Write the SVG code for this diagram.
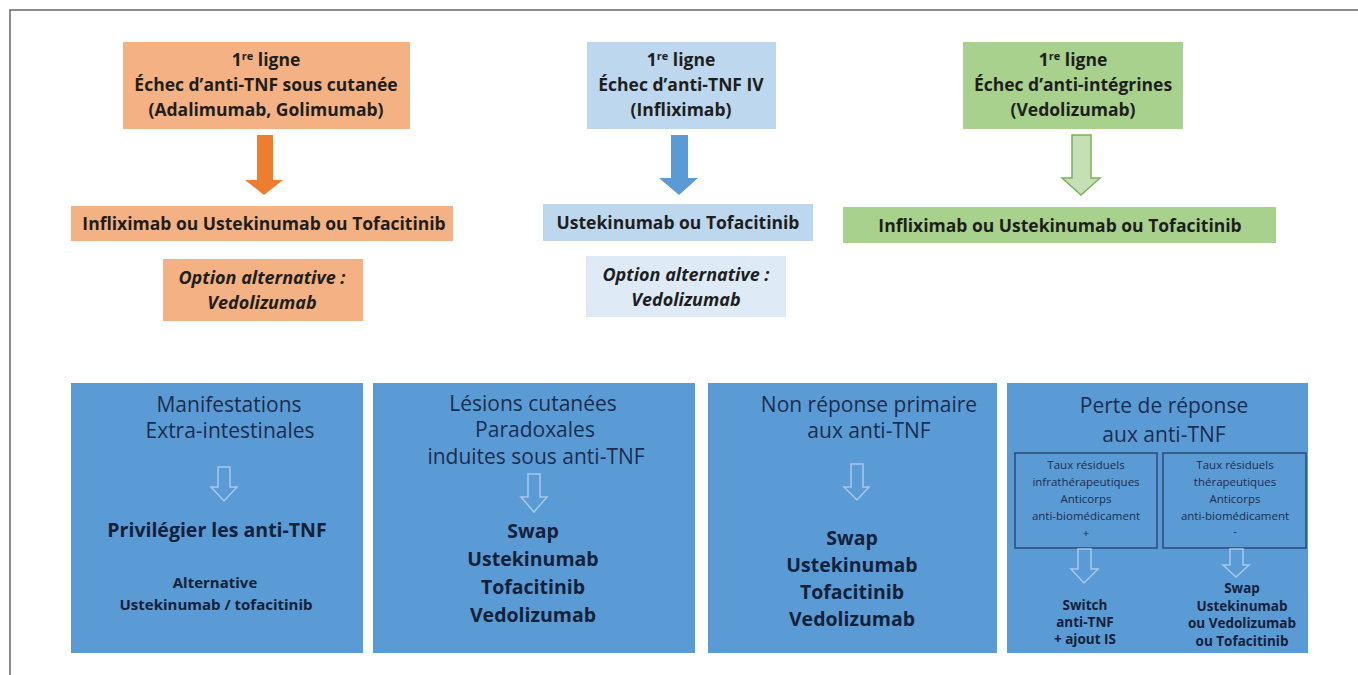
<svg xmlns="http://www.w3.org/2000/svg" width="1358" height="675" viewBox="0 0 1358 675">
<style>
  .t{font-family:"Open Sans","Liberation Sans",sans-serif;text-anchor:middle}
  .top{font-size:17.5px;font-weight:bold;fill:#1e1e1e}
  .mid{font-size:17.5px;font-weight:bold;fill:#1e1e1e}
  .opt{font-size:18px;font-weight:bold;font-style:italic;fill:#1e1e1e}
  .hd{font-size:21px;fill:#1b2d4f}
  .bb{font-size:19.5px;font-weight:bold;fill:#14213a}
  .sb{font-size:15px;font-weight:bold;fill:#14213a}
  .tiny{font-size:11.5px;fill:#1b2d4f}
  .sm{font-size:13.5px;font-weight:bold;fill:#14213a}
  .blue{fill:#5b9bd5}
  .hollow{fill:#5b9bd5;stroke:#a8c8ea;stroke-width:1.5}
  .inner{fill:none;stroke:#2c4a78;stroke-width:1.5}
</style>
<rect x="0" y="0" width="1358" height="675" fill="#ffffff"/>
<path d="M10,675 V10 H1358" fill="none" stroke="#666" stroke-width="1.5"/>

<g id="orange-top">
  <rect x="123" y="42" width="287" height="87" fill="#f4b183"/>
  <text class="t top" x="266" y="66">1<tspan font-size="11" dy="-6">re</tspan><tspan dy="6"> ligne</tspan></text>
  <text class="t top" x="266" y="91">Échec d’anti-TNF sous cutanée</text>
  <text class="t top" x="266" y="116">(Adalimumab, Golimumab)</text>
</g>
<g id="orange-mid">
  <rect x="71" y="206" width="382" height="35" fill="#f4b183"/>
  <text class="t mid" x="264" y="230">Infliximab ou Ustekinumab ou Tofacitinib</text>
</g>
<g id="orange-opt">
  <rect x="163" y="259" width="200" height="62" fill="#f4b183"/>
  <text class="t opt" x="262" y="284">Option alternative :</text>
  <text class="t opt" x="262" y="309">Vedolizumab</text>
</g>

<g id="blue-top">
  <rect x="587" y="42" width="189" height="87" fill="#bdd7ee"/>
  <text class="t top" x="681" y="66">1<tspan font-size="11" dy="-6">re</tspan><tspan dy="6"> ligne</tspan></text>
  <text class="t top" x="681" y="91">Échec d’anti-TNF IV</text>
  <text class="t top" x="681" y="116">(Infliximab)</text>
</g>
<g id="blue-mid">
  <rect x="543" y="204" width="270" height="37" fill="#bdd7ee"/>
  <text class="t mid" x="678" y="229">Ustekinumab ou Tofacitinib</text>
</g>
<g id="blue-opt">
  <rect x="586" y="256" width="200" height="61" fill="#deebf7"/>
  <text class="t opt" x="686" y="281">Option alternative :</text>
  <text class="t opt" x="686" y="306">Vedolizumab</text>
</g>

<g id="green-top">
  <rect x="963" y="42" width="220" height="87" fill="#a9d18e"/>
  <text class="t top" x="1073" y="66">1<tspan font-size="11" dy="-6">re</tspan><tspan dy="6"> ligne</tspan></text>
  <text class="t top" x="1073" y="91">Échec d’anti-intégrines</text>
  <text class="t top" x="1073" y="116">(Vedolizumab)</text>
</g>
<g id="green-mid">
  <rect x="843" y="207" width="433" height="36" fill="#a9d18e"/>
  <text class="t mid" x="1060" y="232">Infliximab ou Ustekinumab ou Tofacitinib</text>
</g>

<g id="box1">
  <rect class="blue" x="71" y="383" width="292" height="270"/>
  <text class="t hd" x="229" y="412">Manifestations</text>
  <text class="t hd" x="230" y="438">Extra-intestinales</text>
  <text class="t bb" x="217" y="537">Privilégier les anti-TNF</text>
  <text class="t sb" x="215" y="588">Alternative</text>
  <text class="t sb" x="216" y="610">Ustekinumab / tofacitinib</text>
</g>
<g id="box2">
  <rect class="blue" x="373" y="383" width="322" height="270"/>
  <text class="t hd" x="533" y="411" font-size="20">Lésions cutanées</text>
  <text class="t hd" x="535" y="437" font-size="20">Paradoxales</text>
  <text class="t hd" x="536" y="464" font-size="20">induites sous anti-TNF</text>
  <text class="t bb" x="533" y="538">Swap</text>
  <text class="t bb" x="533" y="566">Ustekinumab</text>
  <text class="t bb" x="533" y="594">Tofacitinib</text>
  <text class="t bb" x="533" y="622">Vedolizumab</text>
</g>
<g id="box3">
  <rect class="blue" x="708" y="383" width="289" height="270"/>
  <text class="t hd" x="869" y="412">Non réponse primaire</text>
  <text class="t hd" x="869" y="438">aux anti-TNF</text>
  <text class="t bb" x="852" y="545">Swap</text>
  <text class="t bb" x="852" y="572">Ustekinumab</text>
  <text class="t bb" x="852" y="599">Tofacitinib</text>
  <text class="t bb" x="852" y="626">Vedolizumab</text>
</g>
<g id="box4">
  <rect class="blue" x="1007" y="383" width="301" height="270"/>
  <text class="t hd" x="1164" y="413" font-size="22">Perte de réponse</text>
  <text class="t hd" x="1164" y="442" font-size="22">aux anti-TNF</text>
</g>
<g id="box4-left">
  <rect class="inner" x="1015" y="453" width="142" height="95"/>
  <text class="t tiny" x="1086" y="469">Taux résiduels</text>
  <text class="t tiny" x="1086" y="486">infrathérapeutiques</text>
  <text class="t tiny" x="1086" y="503">Anticorps</text>
  <text class="t tiny" x="1086" y="520">anti-biomédicament</text>
  <text class="t tiny" x="1086" y="537">+</text>
</g>
<g id="box4-right">
  <rect class="inner" x="1163" y="453" width="143" height="95"/>
  <text class="t tiny" x="1235" y="469">Taux résiduels</text>
  <text class="t tiny" x="1235" y="486">thérapeutiques</text>
  <text class="t tiny" x="1235" y="503">Anticorps</text>
  <text class="t tiny" x="1235" y="520">anti-biomédicament</text>
  <text class="t tiny" x="1235" y="535">-</text>
</g>
<g id="box4-left-result">
  <text class="t sm" x="1085" y="610">Switch</text>
  <text class="t sm" x="1085" y="627">anti-TNF</text>
  <text class="t sm" x="1085" y="644">+ ajout IS</text>
</g>
<g id="box4-right-result">
  <text class="t sm" x="1242" y="593">Swap</text>
  <text class="t sm" x="1242" y="611">Ustekinumab</text>
  <text class="t sm" x="1242" y="628">ou Vedolizumab</text>
  <text class="t sm" x="1242" y="646">ou Tofacitinib</text>
</g>

<g id="connectors">
  <path d="M257,135 H273 V180 H283 L264,195 L245,180 H257 Z" fill="#ed7d31"/>
  <path d="M671,135 H688 V178 H698 L679,195 L659,178 H671 Z" fill="#5b9bd5"/>
  <path d="M1072,135 H1091 V178 H1100 L1081,195 L1062,178 H1072 Z" fill="#c5e0b4" stroke="#7fae5e" stroke-width="1.5"/>
  <path class="hollow" d="M218,467 H230 V487 H237 L224,501 L211,487 H218 Z"/>
  <path class="hollow" d="M528,474 H540 V497 H547 L534,512 L521,497 H528 Z"/>
  <path class="hollow" d="M851,464 H863 V487 H869 L857,500 L844,487 H851 Z"/>
  <path class="hollow" d="M1078,549 H1091 V569 H1098 L1084,583 L1071,569 H1078 Z"/>
  <path class="hollow" d="M1230,549 H1243 V565 H1249 L1236,577 L1223,565 H1230 Z"/>
</g>
</svg>
